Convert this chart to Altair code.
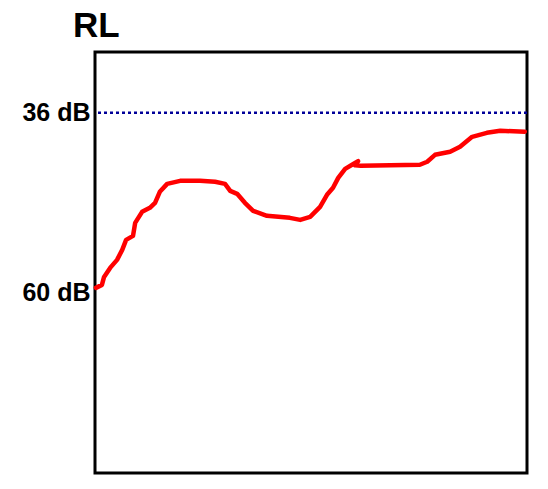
import altair as alt
import pandas as pd

# Red curve: x position (0-100, arbitrary), level in dB
xs = [0.2, 1.6, 2.1, 3.5, 5.1, 6.3, 7.2, 8.8, 9.3, 10.9, 12.7, 13.9, 15.0, 16.7,
      19.7, 24.3, 27.8, 30.1, 31.3, 32.9, 34.7, 36.6, 39.8, 45.1, 47.5, 49.8,
      52.1, 53.7, 55.1, 56.3, 57.9, 59.5, 60.9, 60.2, 61.5, 75.2, 76.9, 78.7,
      82.2, 84.5, 87.3, 90.7, 93.8, 99.5]
db = [59.33, 58.93, 57.87, 56.67, 55.6, 54.27, 52.93, 52.4, 50.67, 49.2, 48.67,
      48.0, 46.53, 45.47, 45.07, 45.07, 45.2, 45.47, 46.4, 46.8, 48.0, 49.07,
      49.73, 50.0, 50.27, 49.87, 48.53, 46.93, 46.0, 44.67, 43.47, 42.93, 42.45,
      43.0, 43.07, 42.93, 42.53, 41.6, 41.2, 40.53, 39.2, 38.67, 38.4, 38.53]
ref_level = [36]
tick_values = [36, 60]
tick_labels = ["36 dB", "60 dB"]

curve = pd.DataFrame({"x": xs, "db": db, "order": list(range(len(xs)))})
ref = pd.DataFrame({"db": ref_level})

yscale = alt.Scale(domain=[27.9, 84], reverse=True, nice=False, zero=False)
xscale = alt.Scale(domain=[0, 100], nice=False)

label_expr = "datum.value == 36 ? '36 dB' : '60 dB'"

line = alt.Chart(curve).mark_line(
    color="#ff0000", strokeWidth=4.5, strokeCap="round", strokeJoin="round"
).encode(
    x=alt.X("x:Q", scale=xscale, axis=None),
    y=alt.Y("db:Q", scale=yscale, axis=alt.Axis(
        values=tick_values, labelExpr=label_expr, title=None, domain=False,
        ticks=False, grid=False, labelFontSize=25, labelFontWeight="bold",
        labelFont="Liberation Sans", labelColor="#000000", labelPadding=5)),
    order="order:Q",
)

dotted = alt.Chart(ref).mark_rule(
    color="#000099", strokeWidth=2.5, strokeDash=[3, 3]
).encode(y=alt.Y("db:Q", scale=yscale))

chart = alt.layer(dotted, line).properties(
    width=432, height=421,
    title=alt.TitleParams("RL", anchor="start", frame="group", dx=-22,
                          fontSize=35, fontWeight="bold", font="Liberation Sans",
                          color="#000000", offset=8),
    autosize=alt.AutoSizeParams(type="none"),
    padding={"left": 87, "top": 44, "right": 13, "bottom": 8},
).configure_view(stroke="#000000", strokeWidth=3)

chart.save("out.html", embed_options={"renderer": "svg", "actions": False})
